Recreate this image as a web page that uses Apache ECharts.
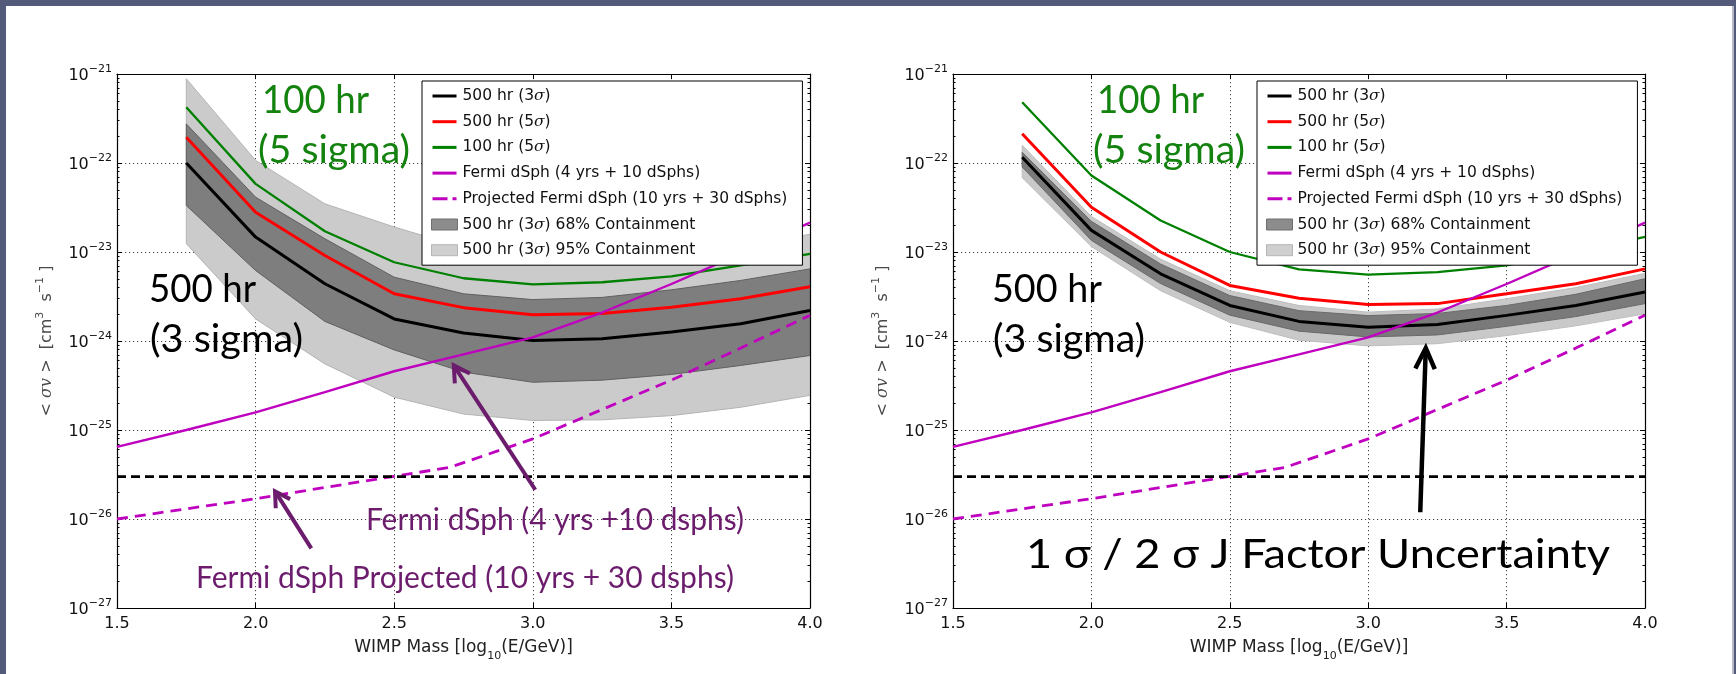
<!DOCTYPE html>
<html>
<head>
<meta charset="utf-8">
<script src="https://cdn.jsdelivr.net/npm/echarts@6/dist/echarts.min.js"></script>
<style>
  html, body { margin: 0; padding: 0; background: #545b7a; overflow: hidden; }
  #slide { position: absolute; left: 6px; top: 6px; width: 1726px; height: 668px; background: #ffffff; }
  #edge { position: absolute; left: 1732px; top: 6px; width: 2px; height: 668px; background: #b9bcc6; }
  #chart { position: absolute; left: 0; top: 0; width: 1736px; height: 674px; }
</style>
</head>
<body>
<div id="slide"></div>
<div id="edge"></div>
<div id="chart"></div>
<script>
// ---------------------------------------------------------------------------
// Data: WIMP mass in log10(E/GeV), annihilation cross sections in cm^3 s^-1
// ---------------------------------------------------------------------------
const massLog = [1.75, 2.0, 2.25, 2.5, 2.75, 3.0, 3.25, 3.5, 3.75, 4.0];

// Left panel
const leftSens3 = [1.00e-22, 1.47e-23, 4.40e-24, 1.77e-24, 1.23e-24, 1.01e-24, 1.06e-24, 1.26e-24, 1.56e-24, 2.20e-24];
const leftSens5 = [1.95e-22, 2.80e-23, 9.14e-24, 3.39e-24, 2.37e-24, 1.97e-24, 2.04e-24, 2.40e-24, 2.98e-24, 4.07e-24];
const leftSens100 = [4.24e-22, 5.83e-23, 1.71e-23, 7.67e-24, 5.07e-24, 4.32e-24, 4.57e-24, 5.31e-24, 7.08e-24, 9.55e-24];
const left68Hi = [2.75e-22, 4.13e-23, 1.41e-23, 5.21e-24, 3.39e-24, 2.92e-24, 3.09e-24, 3.76e-24, 4.79e-24, 6.46e-24];
const left68Lo = [3.33e-23, 6.19e-24, 1.66e-24, 7.94e-25, 4.47e-25, 3.44e-25, 3.63e-25, 4.21e-25, 5.31e-25, 6.87e-25];
const left95Hi = [8.83e-22, 1.07e-22, 3.48e-23, 1.91e-23, 1.12e-23, 8.91e-24, 8.91e-24, 1.00e-23, 1.17e-23, 1.58e-23];
const left95Lo = [1.24e-23, 1.77e-24, 5.53e-25, 2.34e-25, 1.51e-25, 1.28e-25, 1.30e-25, 1.45e-25, 1.80e-25, 2.45e-25];

// Right panel
const rightSens3 = [1.16e-22, 1.75e-23, 5.69e-24, 2.51e-24, 1.66e-24, 1.43e-24, 1.53e-24, 1.94e-24, 2.51e-24, 3.55e-24];
const rightSens5 = [2.13e-22, 3.18e-23, 1.00e-23, 4.21e-24, 3.02e-24, 2.57e-24, 2.63e-24, 3.39e-24, 4.40e-24, 6.46e-24];
const rightSens100 = [4.82e-22, 7.24e-23, 2.26e-23, 1.00e-23, 6.38e-24, 5.58e-24, 5.93e-24, 7.08e-24, 1.00e-23, 1.48e-23];
const right68Hi = [1.32e-22, 2.21e-23, 7.33e-24, 3.24e-24, 2.19e-24, 1.93e-24, 2.04e-24, 2.51e-24, 3.35e-24, 5.01e-24];
const right68Lo = [9.02e-23, 1.35e-23, 4.42e-24, 1.95e-24, 1.29e-24, 1.11e-24, 1.17e-24, 1.46e-24, 1.88e-24, 2.63e-24];
const right95Hi = [1.58e-22, 2.51e-23, 8.32e-24, 3.67e-24, 2.51e-24, 2.11e-24, 2.29e-24, 2.99e-24, 3.98e-24, 5.75e-24];
const right95Lo = [6.84e-23, 1.15e-23, 3.67e-24, 1.62e-24, 1.02e-24, 8.81e-25, 9.33e-25, 1.15e-24, 1.48e-24, 2.02e-24];

// Fermi-LAT dwarf spheroidal limits (same in both panels)
const fermiMass = [1.5, 1.75, 2.0, 2.25, 2.5, 2.75, 3.0, 3.25, 3.5, 3.75, 4.0];
const fermiLimit = [6.46e-26, 1.00e-25, 1.58e-25, 2.66e-25, 4.57e-25, 7.08e-25, 1.10e-24, 2.09e-24, 4.37e-24, 9.55e-24, 2.14e-23];
const projMass = [1.5, 1.75, 2.0, 2.25, 2.5, 2.7, 3.0, 3.25, 3.5, 3.75, 4.0];
const projLimit = [1.00e-26, 1.30e-26, 1.69e-26, 2.26e-26, 3.02e-26, 3.80e-26, 7.94e-26, 1.70e-25, 3.63e-25, 8.32e-25, 1.95e-24];

// Thermal relic cross section
const massRange = [1.5, 4.0];
const thermalRelic = 3e-26;

// Axis ticks
const massTicks = [1.5, 2.0, 2.5, 3.0, 3.5, 4.0];
const sigmaDecades = [-27, -26, -25, -24, -23, -22, -21];

// Series names (also legend entries)
const NAME_3S = '500 hr (3σ)';
const NAME_5S = '500 hr (5σ)';
const NAME_100 = '100 hr (5σ)';
const NAME_FERMI = 'Fermi dSph (4 yrs + 10 dSphs)';
const NAME_PROJ = 'Projected Fermi dSph (10 yrs + 30 dSphs)';
const NAME_68 = '500 hr (3σ) 68% Containment';
const NAME_95 = '500 hr (3σ) 95% Containment';

// ---------------------------------------------------------------------------
// Styling
// ---------------------------------------------------------------------------
const FONT = 'DejaVu Sans';
const CAPTION_FONT = 'Lato';
const GREEN_TXT = '#14820f';
const PURPLE = '#6c1c6c';
const MAGENTA = '#bf00bf';

const grids = [
  { left: 117, top: 74, width: 693, height: 534 },
  { left: 953, top: 74, width: 692, height: 534 }
];

// the cross-section axis is logarithmic: it runs over decimal exponents
const lg = v => Math.log10(v);
const yMin = sigmaDecades[0];
const yMax = sigmaDecades[sigmaDecades.length - 1];

// minor log ticks at 2..9 x 10^n
const minorTickExp = [];
for (let e = yMin; e < yMax; e++) {
  for (let k = 2; k <= 9; k++) minorTickExp.push(e + Math.log10(k));
}

const spine = { show: true, onZero: false, lineStyle: { color: '#000', width: 1.2 } };
const dotted = { show: true, lineStyle: { color: '#444', width: 1, type: [1.2, 2.8] } };

function xAxesFor(g) {
  return [
    {
      gridIndex: g, type: 'value', position: 'bottom',
      min: massTicks[0], max: massTicks[massTicks.length - 1], interval: 0.5,
      axisLine: spine,
      axisTick: { show: true, inside: true, length: 5, lineStyle: { color: '#000' } },
      axisLabel: { margin: 8, color: '#111', fontFamily: FONT, fontSize: 16, formatter: v => v.toFixed(1) },
      splitLine: dotted,
      name: '{a|WIMP Mass [log}{sub|10}{a|(E/GeV)]}',
      nameLocation: 'middle', nameGap: 31, nameMoveOverlap: false,
      nameTextStyle: {
        rich: {
          a: { fontFamily: FONT, fontSize: 17, color: '#222', lineHeight: 22, verticalAlign: 'top' },
          sub: { fontFamily: FONT, fontSize: 11, color: '#222', lineHeight: 11, verticalAlign: 'top', padding: [12, 0, 0, 0] }
        }
      }
    },
    {
      gridIndex: g, type: 'value', position: 'top',
      min: massTicks[0], max: massTicks[massTicks.length - 1], interval: 0.5,
      axisLine: spine,
      axisTick: { show: true, inside: true, length: 5, lineStyle: { color: '#000' } },
      axisLabel: { show: false },
      splitLine: { show: false }
    }
  ];
}

function decadeLabel(v) {
  const e = Math.round(v);
  return '{b|10}{e|' + (e < 0 ? '\u2212' : '') + Math.abs(e) + '}';
}

function yAxesFor(g) {
  const major = {
    gridIndex: g, type: 'value', min: yMin, max: yMax, interval: 1,
    axisLine: spine,
    axisTick: { show: true, inside: true, length: 5, lineStyle: { color: '#000' } }
  };
  const minor = {
    gridIndex: g, type: 'value', min: yMin, max: yMax,
    axisLine: { show: false },
    axisTick: { show: true, inside: true, length: 2.5, customValues: minorTickExp, lineStyle: { color: '#000' } },
    axisLabel: { show: false },
    splitLine: { show: false }
  };
  return [
    Object.assign({}, major, {
      position: 'left',
      axisLabel: {
        margin: 5, formatter: decadeLabel,
        rich: {
          b: { fontFamily: FONT, fontSize: 16, color: '#111', lineHeight: 19, verticalAlign: 'bottom' },
          e: { fontFamily: FONT, fontSize: 11, color: '#111', lineHeight: 11, verticalAlign: 'bottom', padding: [0, 0, 9, 0] }
        }
      },
      splitLine: dotted,
      name: '{a|< }{m|σv}{a| >  [cm}{sup|3}{a|  s}{sup|\u22121}{a| ]}',
      nameLocation: 'middle', nameRotate: 90, nameGap: 62, nameMoveOverlap: false,
      nameTextStyle: {
        rich: {
          a: { fontFamily: FONT, fontSize: 16, color: '#4a4a4a', lineHeight: 22, verticalAlign: 'bottom' },
          m: { fontFamily: 'DejaVu Serif', fontStyle: 'italic', fontSize: 16, color: '#4a4a4a', lineHeight: 22, verticalAlign: 'bottom' },
          sup: { fontFamily: FONT, fontSize: 11, color: '#4a4a4a', lineHeight: 11, verticalAlign: 'bottom', padding: [0, 0, 9, 0] }
        }
      }
    }),
    Object.assign({}, major, { position: 'right', axisLabel: { show: false }, splitLine: { show: false } }),
    Object.assign({}, minor, { position: 'left' }),
    Object.assign({}, minor, { position: 'right' })
  ];
}

// closed polygon between two curves, drawn once through the axes' scales
function bandRenderer(lo, hi, fill, stroke) {
  return function (params, api) {
    if (params.dataIndex !== 0) return null;
    const upper = massLog.map((m, i) => api.coord([m, lg(hi[i])]));
    const lower = massLog.map((m, i) => api.coord([m, lg(lo[i])])).reverse();
    return {
      type: 'polygon',
      shape: { points: upper.concat(lower) },
      style: { fill: fill, stroke: stroke, lineWidth: 1 }
    };
  };
}

function pairs(xs, ys) { return xs.map((x, i) => [x, lg(ys[i])]); }

function panelSeries(g, p) {
  const ax = { xAxisIndex: 2 * g, yAxisIndex: 4 * g };
  const line = (name, xs, ys, color, width, type, z) => Object.assign({
    type: 'line', name: name, data: pairs(xs, ys), symbol: 'none', showSymbol: false, silent: true, z: z,
    lineStyle: { color: color, width: width, type: type || 'solid' },
    itemStyle: { color: color }
  }, ax);
  const band = (name, lo, hi, fill, stroke, z) => Object.assign({
    type: 'custom', name: name, clip: true, silent: true, z: z,
    itemStyle: { color: fill },
    data: massLog.map((m, i) => [m, lg(lo[i]), lg(hi[i])]),
    encode: { x: 0, y: [1, 2] },
    renderItem: bandRenderer(lo, hi, fill, stroke)
  }, ax);
  return [
    band(NAME_95, p.lo95, p.hi95, p.light, p.lightEdge, 1),
    band(NAME_68, p.lo68, p.hi68, p.dark, p.darkEdge, 1),
    line(NAME_3S, massLog, p.s3, '#000000', 3, 'solid', 5),
    line(NAME_5S, massLog, p.s5, '#ff0000', 3, 'solid', 5),
    line(NAME_100, massLog, p.s100, '#008000', 2.3, 'solid', 5),
    line(NAME_FERMI, fermiMass, fermiLimit, MAGENTA, 2.4, 'solid', 6),
    line(NAME_PROJ, projMass, projLimit, MAGENTA, 2.8, [11, 7], 6),
    line('Thermal relic', massRange, [thermalRelic, thermalRelic], '#000000', 2.8, [9, 5], 6)
  ];
}

// legend keys: a short bar for lines, a dash-dot for the projection
const LINE_KEY = 'path://M0,0M26,11M1,4H25V7H1Z';
const DASH_KEY = 'path://M0,0M26,11M1,4H16V7H1ZM21,4H25V7H21Z';

function legendFor(left) {
  return {
    left: left, top: 81, orient: 'vertical',
    padding: [7, 15, 7, 9],
    itemWidth: 26, itemHeight: 11, itemGap: 9.7, itemTextGap: 15,
    symbolKeepAspect: false,
    backgroundColor: '#ffffff', borderColor: '#000000', borderWidth: 1, borderRadius: 0,
    z: 20, selectedMode: false,
    textStyle: {
      fontFamily: FONT, fontSize: 15.5, color: '#111', lineHeight: 16,
      rich: { s: { fontFamily: 'DejaVu Serif', fontStyle: 'italic', fontSize: 15.5, color: '#111', lineHeight: 16 } }
    },
    formatter: name => name.replace('σ', '{s|σ}'),
    data: [
      { name: NAME_3S, icon: LINE_KEY, itemStyle: { color: '#000000', borderWidth: 0 } },
      { name: NAME_5S, icon: LINE_KEY, itemStyle: { color: '#ff0000', borderWidth: 0 } },
      { name: NAME_100, icon: LINE_KEY, itemStyle: { color: '#008000', borderWidth: 0 } },
      { name: NAME_FERMI, icon: LINE_KEY, itemStyle: { color: MAGENTA, borderWidth: 0 } },
      { name: NAME_PROJ, icon: DASH_KEY, itemStyle: { color: MAGENTA, borderWidth: 0 } },
      { name: NAME_68, icon: 'rect', itemStyle: { color: '#8c8c8c', borderColor: '#6f6f6f', borderWidth: 1 } },
      { name: NAME_95, icon: 'rect', itemStyle: { color: '#cfcfcf', borderColor: '#b5b5b5', borderWidth: 1 } }
    ]
  };
}

const chart = echarts.init(document.getElementById('chart'), null, { renderer: 'canvas' });

chart.setOption({
  animation: false,
  backgroundColor: 'transparent',
  grid: grids.map(g => Object.assign({ outerBoundsMode: 'none', containLabel: false }, g)),
  xAxis: xAxesFor(0).concat(xAxesFor(1)),
  yAxis: yAxesFor(0).concat(yAxesFor(1)),
  legend: [legendFor(422), legendFor(1257)],
  series: panelSeries(0, {
    s3: leftSens3, s5: leftSens5, s100: leftSens100,
    hi68: left68Hi, lo68: left68Lo, hi95: left95Hi, lo95: left95Lo,
    dark: '#7e7e7e', darkEdge: '#606060', light: '#cbcbcb', lightEdge: '#b3b3b3'
  }).concat(panelSeries(1, {
    s3: rightSens3, s5: rightSens5, s100: rightSens100,
    hi68: right68Hi, lo68: right68Lo, hi95: right95Hi, lo95: right95Lo,
    dark: '#7a7a7a', darkEdge: '#6a6a6a', light: '#c9c9c9', lightEdge: '#bdbdbd'
  }))
});

// ---------------------------------------------------------------------------
// Slide captions and arrows
// ---------------------------------------------------------------------------
const measure = document.createElement('canvas').getContext('2d');

function caption(c) {
  const font = c.size + 'px ' + CAPTION_FONT;
  measure.font = font;
  measure.textBaseline = 'middle';
  const m = measure.measureText(c.text);
  const hMetric = measure.measureText('H');
  const yMid = c.baseline - hMetric.actualBoundingBoxDescent;
  return {
    type: 'text', x: c.x, y: yMid, scaleX: c.width / m.width, z: 50, silent: true,
    style: { text: c.text, font: font, fill: c.color, align: 'left', verticalAlign: 'middle' }
  };
}

const captions = [
  { text: '100 hr', x: 262, baseline: 113, width: 107, size: 39, color: GREEN_TXT },
  { text: '(5 sigma)', x: 258, baseline: 163, width: 152, size: 39, color: GREEN_TXT },
  { text: '500 hr', x: 149, baseline: 302, width: 107, size: 39, color: '#000' },
  { text: '(3 sigma)', x: 150, baseline: 352, width: 153, size: 39, color: '#000' },
  { text: 'Fermi dSph (4 yrs +10 dsphs)', x: 366, baseline: 530, width: 378, size: 30, color: PURPLE },
  { text: 'Fermi dSph Projected (10 yrs + 30 dsphs)', x: 196, baseline: 588, width: 538, size: 30, color: PURPLE },
  { text: '100 hr', x: 1097, baseline: 113, width: 107, size: 39, color: GREEN_TXT },
  { text: '(5 sigma)', x: 1093, baseline: 163, width: 152, size: 39, color: GREEN_TXT },
  { text: '500 hr', x: 992, baseline: 302, width: 110, size: 39, color: '#000' },
  { text: '(3 sigma)', x: 993, baseline: 352, width: 152, size: 39, color: '#000' },
  { text: '1 σ / 2 σ J Factor Uncertainty', x: 1026, baseline: 568, width: 584, size: 40, color: '#000' }
];

// arrows anchored in data space: [log10 mass, cross section]
const arrows = [
  { grid: 0, from: [3.009, 2.13e-26], to: [2.715, 5.31e-25], color: PURPLE, head: 18, spread: 30, width: 4 },
  { grid: 0, from: [2.201, 4.67e-27], to: [2.07, 2.05e-26], color: PURPLE, head: 17, spread: 30, width: 4 },
  { grid: 1, from: [3.188, 1.19e-26], to: [3.208, 8.34e-25], color: '#000000', head: 23, spread: 25, width: 4.5 }
];

function arrowShapes(a) {
  const finder = { xAxisIndex: 2 * a.grid, yAxisIndex: 4 * a.grid };
  const p0 = chart.convertToPixel(finder, [a.from[0], lg(a.from[1])]);
  const p1 = chart.convertToPixel(finder, [a.to[0], lg(a.to[1])]);
  const dx = p0[0] - p1[0], dy = p0[1] - p1[1];
  const len = Math.hypot(dx, dy);
  const ux = dx / len, uy = dy / len;
  const rot = (ang) => {
    const r = ang * Math.PI / 180;
    return [p1[0] + a.head * (ux * Math.cos(r) - uy * Math.sin(r)),
            p1[1] + a.head * (ux * Math.sin(r) + uy * Math.cos(r))];
  };
  const shaftEnd = [p1[0] + ux * 2, p1[1] + uy * 2];
  return [
    { type: 'line', z: 50, silent: true, shape: { x1: p0[0], y1: p0[1], x2: shaftEnd[0], y2: shaftEnd[1] },
      style: { stroke: a.color, lineWidth: a.width, lineCap: 'butt' } },
    { type: 'polyline', z: 50, silent: true, shape: { points: [rot(a.spread), p1, rot(-a.spread)] },
      style: { stroke: a.color, lineWidth: a.width, lineJoin: 'miter', lineCap: 'butt', fill: null } }
  ];
}

let elements = captions.map(caption);
arrows.forEach(a => { elements = elements.concat(arrowShapes(a)); });
chart.setOption({ graphic: { elements: elements } });
</script>
</body>
</html>
